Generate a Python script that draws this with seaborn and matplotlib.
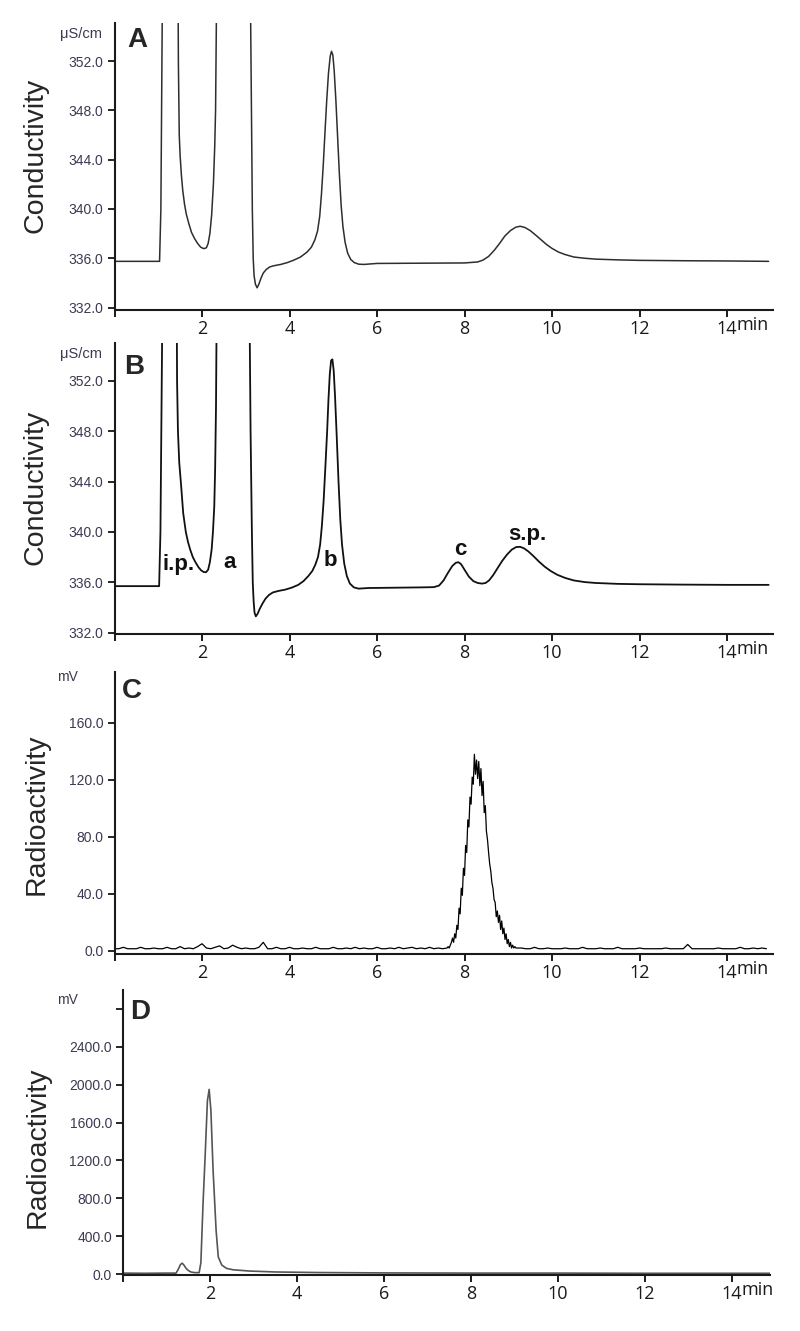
"""
Ion chromatograms (conductivity) and radio-chromatograms, panels A-D.
"""

import numpy as np
import pandas as pd
import matplotlib
matplotlib.use("Agg")
import matplotlib.pyplot as plt
import seaborn as sns

# ------------------------------------------------------------------ data
# Panel A - conductivity trace (min, uS/cm)
a_time = [0, 1.03, 1.06, 1.10, 1.45, 1.46, 1.48, 1.50, 1.53, 1.56, 1.60, 1.64, 1.70,
          1.76, 1.83, 1.90, 1.97, 2.04, 2.10, 2.14, 2.18, 2.22, 2.26, 2.29, 2.31,
          2.34, 3.10, 3.13, 3.15, 3.17, 3.19, 3.22, 3.26, 3.30, 3.35, 3.40, 3.47,
          3.55, 3.65, 3.80, 3.95, 4.10, 4.25, 4.40, 4.50, 4.58, 4.64, 4.69, 4.73,
          4.77, 4.81, 4.85, 4.89, 4.93, 4.96, 4.99, 5.02, 5.06, 5.10, 5.14, 5.18,
          5.22, 5.27, 5.33, 5.40, 5.48, 5.58, 5.70, 6.00, 7.00, 8.00, 8.30, 8.42,
          8.55, 8.68, 8.80, 8.92, 9.05, 9.17, 9.27, 9.38, 9.50, 9.62, 9.75, 9.88,
          10.0, 10.15, 10.3, 10.5, 10.75, 11.0, 11.5, 12.0, 13.0, 14.0, 14.95]
a_signal = [335.75, 335.75, 340.0, 360.0, 360.0, 352.0, 346.0, 344.3, 342.7, 341.5,
            340.4, 339.6, 338.8, 338.1, 337.6, 337.2, 336.9, 336.78, 336.85, 337.2,
            338.0, 339.5, 342.0, 345.0, 348.0, 360.0, 360.0, 348.0, 340.0, 336.0,
            334.6, 333.9, 333.6, 333.9, 334.4, 334.8, 335.1, 335.3, 335.4, 335.5,
            335.65, 335.85, 336.1, 336.5, 336.9, 337.5, 338.2, 339.4, 341.2, 343.5,
            346.2, 348.8, 351.0, 352.4, 352.8, 352.5, 351.3, 348.8, 345.8, 342.8,
            340.3, 338.6, 337.3, 336.4, 335.9, 335.65, 335.52, 335.5, 335.58, 335.6,
            335.62, 335.7, 335.85, 336.15, 336.65, 337.2, 337.8, 338.25, 338.52, 338.6,
            338.5, 338.25, 337.9, 337.5, 337.1, 336.8, 336.5, 336.3, 336.1, 336.0,
            335.93, 335.87, 335.83, 335.8, 335.78, 335.75]

# Panel B - conductivity trace (min, uS/cm)
b_time = [0, 1.02, 1.05, 1.10, 1.42, 1.43, 1.45, 1.48, 1.52, 1.57, 1.63, 1.68, 1.73,
          1.79, 1.85, 1.92, 1.98, 2.04, 2.09, 2.14, 2.18, 2.22, 2.25, 2.28, 2.30,
          2.32, 2.34, 3.08, 3.11, 3.14, 3.16, 3.18, 3.20, 3.23, 3.27, 3.32, 3.38,
          3.45, 3.53, 3.62, 3.75, 3.90, 4.05, 4.20, 4.32, 4.43, 4.52, 4.59, 4.65,
          4.70, 4.74, 4.78, 4.82, 4.86, 4.89, 4.92, 4.95, 4.98, 5.01, 5.04, 5.08,
          5.12, 5.16, 5.20, 5.25, 5.31, 5.38, 5.47, 5.58, 5.80, 7.00, 7.30, 7.42,
          7.52, 7.62, 7.72, 7.80, 7.86, 7.92, 8.00, 8.10, 8.20, 8.30, 8.40, 8.48,
          8.56, 8.65, 8.75, 8.86, 8.97, 9.08, 9.18, 9.27, 9.36, 9.46, 9.57, 9.70,
          9.83, 9.97, 10.12, 10.3, 10.5, 10.75, 11.0, 11.5, 12.0, 13.0, 14.0, 14.95]
b_signal = [335.7, 335.7, 340.0, 360.0, 360.0, 352.0, 348.0, 345.5, 343.8, 341.5,
            340.0, 339.2, 338.6, 338.0, 337.6, 337.2, 336.95, 336.82, 336.8, 337.0,
            337.6, 338.6, 340.0, 342.0, 345.0, 350.0, 360.0, 360.0, 348.0, 340.0,
            336.0, 334.5, 333.6, 333.3, 333.5, 333.9, 334.3, 334.7, 335.0, 335.2,
            335.32, 335.42, 335.58, 335.8, 336.1, 336.5, 336.9, 337.4, 338.0,
            339.0, 340.5, 342.5, 345.2, 348.0, 350.5, 352.5, 353.6, 353.7, 352.8,
            350.8, 347.5, 344.0, 341.0, 339.0, 337.5, 336.5, 335.9, 335.6, 335.5,
            335.55, 335.6, 335.62, 335.75, 336.15, 336.75, 337.3, 337.55, 337.6,
            337.45, 337.0, 336.45, 336.1, 335.95, 335.9, 335.95, 336.15, 336.55,
            337.1, 337.7, 338.2, 338.6, 338.8, 338.82, 338.7, 338.45, 338.1, 337.65,
            337.25, 336.9, 336.6, 336.35, 336.15, 336.02, 335.95, 335.88, 335.85,
            335.82, 335.8, 335.8]
b_labels = ["i.p.", "a", "b", "c", "s.p."]
b_label_time = [1.47, 2.62, 4.93, 7.90, 9.43]
b_label_signal = [337.4, 337.6, 337.7, 338.6, 339.8]

# Panel C - radioactivity (mV), baseline read every 0.1 min, peak every 0.025 min
c_base_pre = [1.5, 1.5, 2.5, 1.5, 1.5, 1.5, 2.5, 1.5, 1.5, 2.0,
              1.5, 1.5, 2.5, 1.5, 1.5, 3.0, 1.5, 2.0, 1.5, 3.0,
              5.0, 2.0, 1.5, 2.5, 3.5, 1.5, 2.0, 4.0, 2.5, 1.5,
              2.0, 1.5, 1.5, 2.5, 6.0, 1.5, 1.5, 2.5, 1.5, 1.5,
              2.5, 1.5, 1.5, 2.0, 1.5, 1.5, 2.5, 1.5, 1.5, 1.5,
              2.5, 1.5, 1.5, 2.0, 1.5, 2.5, 1.5, 2.0, 1.5, 1.5,
              2.5, 1.5, 1.5, 2.0, 1.5, 2.5, 1.5, 2.0, 2.5, 1.5,
              2.0, 1.5, 2.5, 1.5, 2.0, 1.5]
c_peak = [2, 3, 2, 4, 6, 9, 6, 12, 9, 18,
          15, 30, 26, 44, 39, 58, 53, 74, 69, 92,
          87, 108, 103, 122, 117, 138, 124, 134, 121, 133,
          116, 128, 109, 119, 97, 102, 84, 78, 69, 61,
          56, 48, 44, 36, 34, 24, 28, 20, 25, 15,
          21, 12, 16, 8, 12, 5, 8, 3, 6, 2,
          4, 2, 3, 2, 2, 2, 2, 2]
c_base_post = [2.0, 1.5, 1.5, 2.5, 1.5, 1.5, 2.0, 1.5, 1.5, 1.5,
               2.0, 1.5, 1.5, 1.5, 2.5, 1.5, 1.5, 1.5, 2.0, 1.5,
               1.5, 1.5, 2.5, 1.5, 1.5, 1.5, 1.5, 2.0, 1.5, 1.5,
               1.5, 1.5, 1.5, 2.0, 1.5, 1.5, 1.5, 1.5, 4.5, 1.5,
               1.5, 1.5, 1.5, 1.5, 1.5, 2.0, 1.5, 1.5, 1.5, 1.5,
               2.5, 1.5, 1.5, 2.0, 1.5, 2.0, 1.5]

# Panel D - radioactivity (mV)
d_time = [0, 0.5, 1.0, 1.22, 1.27, 1.32, 1.36, 1.40, 1.45, 1.50, 1.56, 1.65, 1.75,
          1.79, 1.84, 1.89, 1.94, 1.98, 2.02, 2.07, 2.14, 2.19, 2.27, 2.38, 2.53,
          2.90, 3.50, 4.50, 6.00, 8.00, 10.0, 12.0, 14.9]
d_signal = [10, 8, 10, 10, 50, 100, 115, 95, 60, 38, 22, 15, 15,
            120, 750, 1270, 1830, 1950, 1730, 1100, 460, 180, 95, 60, 45,
            32, 22, 16, 12, 10, 10, 8, 8]

x_ticks = [0, 2, 4, 6, 8, 10, 12, 14]
x_tick_labels = ["", "2", "4", "6", "8", "10", "12", "14"]
cond_ticks = [332, 336, 340, 344, 348, 352]
c_ticks = [0, 40, 80, 120, 160]
d_ticks = [0, 400, 800, 1200, 1600, 2000, 2400, 2800]

# build the C series on its sampling grid
c_time = np.concatenate([
    0.1 * np.arange(len(c_base_pre)),
    7.6 + 0.025 * np.arange(len(c_peak)),
    9.3 + 0.1 * np.arange(len(c_base_post)),
])
c_signal = np.concatenate([c_base_pre, c_peak, c_base_post])

# ------------------------------------------------------------------ style
sns.set_style("ticks")
plt.rcParams["font.family"] = ["Liberation Sans", "DejaVu Sans"]

TICK_COLOR = "#3a3a52"
W, H = 800, 1331


def box(x0, y_top, x1, y_bot):
    return [x0 / W, 1 - y_bot / H, (x1 - x0) / W, (y_bot - y_top) / H]


fig = plt.figure(figsize=(8, 13.31), dpi=100)

panels = [
    dict(pos=box(114.5, 23, 773, 310), df=pd.DataFrame({"t": a_time, "v": a_signal}),
         ylim=(331.8, 355.1), yticks=cond_ticks, color="#2e2e2e", lw=1.1,
         letter="A", letter_px=(137, 40), unit="μS/cm", unit_px=(81, 34),
         ylabel="Conductivity", ylabel_px=(36, 155), xmax=15.05),
    dict(pos=box(114.5, 343, 773, 634), df=pd.DataFrame({"t": b_time, "v": b_signal}),
         ylim=(331.9, 355.0), yticks=cond_ticks, color="#111111", lw=1.3,
         letter="B", letter_px=(134, 367), unit="μS/cm", unit_px=(81, 354),
         ylabel="Conductivity", ylabel_px=(36, 487), xmax=15.05),
    dict(pos=box(114.5, 672, 773, 954), df=pd.DataFrame({"t": c_time, "v": c_signal}),
         ylim=(-2.2, 195.8), yticks=c_ticks, color="#000000", lw=0.9,
         letter="C", letter_px=(132, 691), unit="mV", unit_px=(67, 677),
         ylabel="Radioactivity", ylabel_px=(37, 814), xmax=15.05),
    dict(pos=box(123, 990, 770, 1275), df=pd.DataFrame({"t": d_time, "v": d_signal}),
         ylim=(-10, 3000), yticks=d_ticks, color="#555555", lw=1.2,
         letter="D", letter_px=(140, 1012), unit="mV", unit_px=(67, 1000),
         ylabel="Radioactivity", ylabel_px=(38, 1147), xmax=14.87),
]

for p in panels:
    ax = fig.add_axes(p["pos"])
    sns.lineplot(data=p["df"], x="t", y="v", ax=ax, color=p["color"], lw=p["lw"],
                 estimator=None, sort=False)
    ax.set_xlim(0, p["xmax"])
    ax.set_ylim(*p["ylim"])
    sns.despine(ax=ax)
    for side in ("left", "bottom"):
        ax.spines[side].set_linewidth(1.5)
        ax.spines[side].set_color("#1a1a1a")

    ax.set_xticks(x_ticks)
    ax.set_xticklabels(x_tick_labels, fontfamily="Open Sans")
    ax.tick_params(axis="x", length=5, width=1.4, labelsize=13, pad=2, colors="#1a1a1a")
    ax.set_yticks(p["yticks"])
    labels = ["{:.1f}".format(v) for v in p["yticks"]]
    if p["letter"] == "D":
        labels[-1] = ""
    ax.set_yticklabels(labels)
    ax.tick_params(axis="y", length=5, width=1.4, labelsize=10, pad=3,
                   labelcolor=TICK_COLOR)
    ax.set_xlabel("")
    ax.set_ylabel("")

    ax.annotate("min", xy=(14.22, 0), xycoords=("data", "axes fraction"),
                xytext=(0, -4.5), textcoords="offset points", va="top", ha="left",
                fontsize=13, fontfamily="Open Sans", color="#1a1a1a")

    lx, ly = p["letter_px"]
    fig.text(lx / W, 1 - ly / H, p["letter"], fontsize=20, fontweight="bold",
             ha="center", va="center")
    ux, uy = p["unit_px"]
    fig.text(ux / W, 1 - uy / H, p["unit"], fontsize=10.5 if p["unit"] != "mV" else 10,
             color=TICK_COLOR, ha="center", va="center")
    yx, yy = p["ylabel_px"]
    fig.text(yx / W, 1 - yy / H, p["ylabel"], fontsize=20.5, rotation=90,
             ha="center", va="center")

    if p["letter"] == "B":
        for lab, t, v in zip(b_labels, b_label_time, b_label_signal):
            ax.text(t, v, lab, fontsize=16, fontweight="bold", ha="center",
                    va="center", color="#111111")

fig.savefig("out.png", dpi=100)
